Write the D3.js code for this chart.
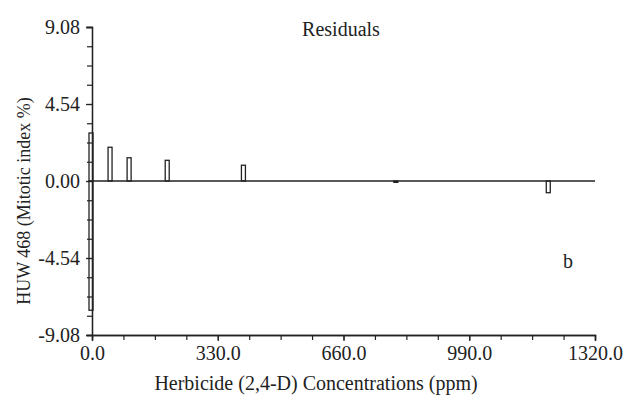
<!DOCTYPE html>
<html>
<head>
<meta charset="utf-8">
<script src="https://cdn.jsdelivr.net/npm/d3@7"></script>
<style>
  body { margin: 0; background: #fff; }
  text { font-family: "Liberation Serif", "DejaVu Serif", serif; fill: #222; }
</style>
</head>
<body>
<script>
// concentrations (ppm) and residuals
const concentrations = [0, 0, 50, 100, 200, 400, 800, 1200];
const residuals = [2.83, -7.62, 1.99, 1.37, 1.22, 0.93, -0.08, -0.69];

const xTicks = [0, 330, 660, 990, 1320];
const yTicks = [-9.08, -4.54, 0, 4.54, 9.08];

const width = 625, height = 401;
const margin = {top: 27, right: 30, bottom: 66, left: 92};

const x = d3.scaleLinear().domain([0, 1320]).range([margin.left, width - margin.right]);
const y = d3.scaleLinear().domain([-9.08, 9.08]).range([height - margin.bottom, margin.top]);

const $svg = d3.select('body').append('svg').attr('width', width).attr('height', height);

const xMinor = d3.range(0, 1320 + 1, 82.5);
const yMinor = d3.range(-9.08, 9.08 + 0.01, 1.135);
const hyphen = f => d => f(d).replace('\u2212', '-');

// minor ticks
const $xMinor = $svg.append('g')
  .attr('transform', `translate(0, ${y(-9.08)})`)
  .call(d3.axisBottom(x).tickValues(xMinor).tickSize(5).tickFormat(''));
const $yMinor = $svg.append('g')
  .attr('transform', `translate(${x(0)}, 0)`)
  .call(d3.axisLeft(y).tickValues(yMinor).tickSize(5).tickFormat(''));

const $xAxis = $svg.append('g')
  .attr('transform', `translate(0, ${y(-9.08)})`)
  .call(d3.axisBottom(x).tickValues(xTicks).tickSize(6).tickPadding(5).tickFormat(d3.format('.1f')));
const $yAxis = $svg.append('g')
  .attr('transform', `translate(${x(0)}, 0)`)
  .call(d3.axisLeft(y).tickValues(yTicks).tickSize(6).tickPadding(6).tickFormat(hyphen(d3.format('.2f'))));

[$xMinor, $yMinor, $xAxis, $yAxis].forEach($a => {
  $a.select('.domain').attr('stroke', '#222').attr('stroke-width', 1.3);
  $a.selectAll('line').attr('stroke', '#222').attr('stroke-width', 1.2);
  $a.selectAll('text').style('font-family', '"Liberation Serif", serif').style('font-size', '20px').attr('fill', '#222');
});

// zero line
$svg.append('line')
  .attr('x1', x(0)).attr('x2', x(1320))
  .attr('y1', y(0)).attr('y2', y(0))
  .attr('stroke', '#222').attr('stroke-width', 1.5);

// residual bars
const bw = 4;
$svg.append('g').selectAll('rect')
  .data(concentrations.map((c, i) => ({c, r: residuals[i]})))
  .enter()
  .append('rect')
  .attr('x', d => x(d.c) - bw + 1)
  .attr('width', bw)
  .attr('y', d => y(Math.max(0, d.r)))
  .attr('height', d => Math.abs(y(d.r) - y(0)))
  .attr('fill', 'none')
  .attr('stroke', '#222')
  .attr('stroke-width', 1.3);

$svg.append('text')
  .attr('x', 341).attr('y', 36)
  .attr('text-anchor', 'middle')
  .style('font-size', '20px')
  .text('Residuals');

$svg.append('text')
  .attr('x', 568).attr('y', 268)
  .attr('text-anchor', 'middle')
  .style('font-size', '20px')
  .text('b');

$svg.append('text')
  .attr('x', 316).attr('y', 390)
  .attr('text-anchor', 'middle')
  .style('font-size', '20px')
  .text('Herbicide (2,4-D) Concentrations (ppm)');

$svg.append('text')
  .attr('transform', 'translate(30, 201) rotate(-90)')
  .attr('text-anchor', 'middle')
  .style('font-size', '18px')
  .text('HUW 468 (Mitotic index %)');
</script>
</body>
</html>
